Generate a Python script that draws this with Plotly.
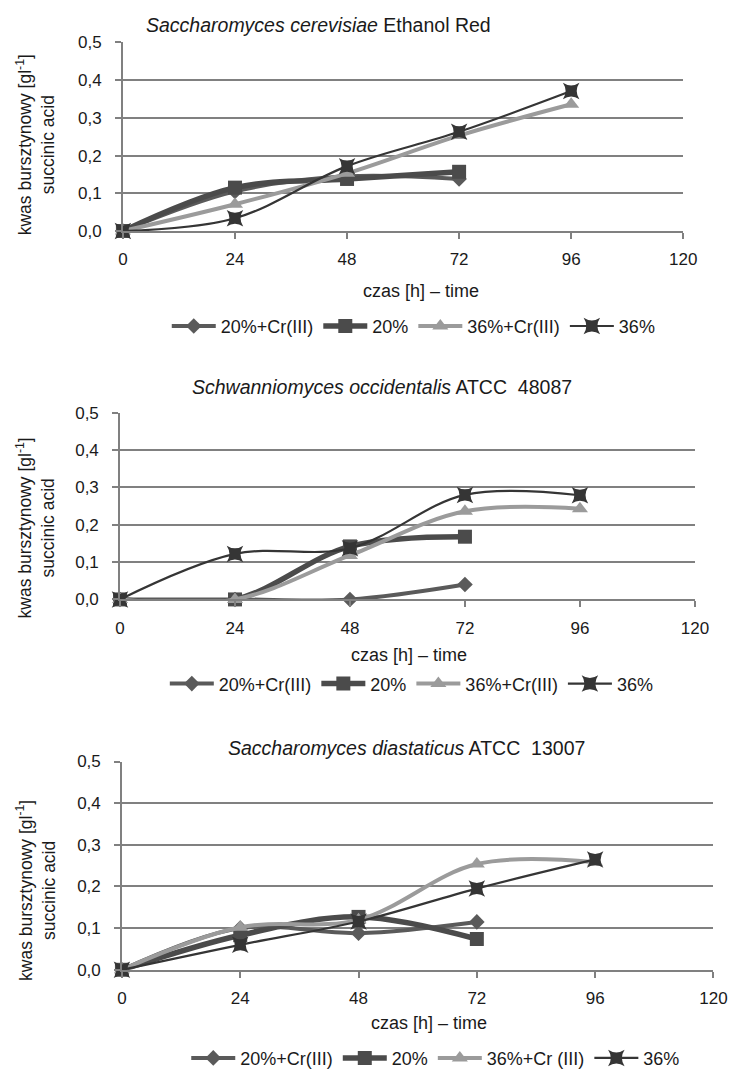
import plotly.graph_objects as go

# Sampling times [h]
time_short = [0, 24, 48, 72]
time_long = [0, 24, 48, 72, 96]
x_ticks = [0, 24, 48, 72, 96, 120]
y_ticks = [0.0, 0.1, 0.2, 0.3, 0.4, 0.5]
y_tick_labels = ["0,0", "0,1", "0,2", "0,3", "0,4", "0,5"]

series_names = ["20%+Cr(III)", "20%", "36%+Cr(III)", "36%"]
series_names_c = ["20%+Cr(III)", "20%", "36%+Cr (III)", "36%"]

titles = [
    "<i>Saccharomyces cerevisiae</i> Ethanol Red",
    "<i>Schwanniomyces occidentalis</i> ATCC  48087",
    "<i>Saccharomyces diastaticus</i> ATCC  13007",
]

# Succinic acid [g/l] — Ethanol Red
er_20cr = [0.0, 0.105, 0.145, 0.138]
er_20 = [0.0, 0.115, 0.138, 0.157]
er_36cr = [0.0, 0.071, 0.153, 0.253, 0.336]
er_36 = [0.0, 0.034, 0.172, 0.263, 0.371]

# Succinic acid [g/l] — Schwanniomyces occidentalis
so_20cr = [0.0, 0.0, 0.0, 0.040]
so_20 = [0.0, 0.0, 0.142, 0.168]
so_36cr = [0.0, 0.0, 0.118, 0.236, 0.243]
so_36 = [0.0, 0.122, 0.137, 0.280, 0.279]

# Succinic acid [g/l] — Saccharomyces diastaticus
sd_20cr = [0.0, 0.100, 0.088, 0.115]
sd_20 = [0.0, 0.083, 0.127, 0.074]
sd_36cr = [0.0, 0.102, 0.120, 0.254, 0.258]
sd_36 = [0.0, 0.060, 0.116, 0.195, 0.265]

W, H = 744, 1080

styles = [
    dict(color="#5a5a5a", width=4, symbol="diamond", size=12),
    dict(color="#4b4b4b", width=5.5, symbol="square", size=14),
    dict(color="#9b9b9b", width=4, symbol="triangle-up", size=14),
    dict(color="#353535", width=2.2, symbol="star-square", size=15),
]

panels = [
    dict(data=[er_20cr, er_20, er_36cr, er_36], names=series_names,
         x=(121, 696), y=(34, 226), title_y=16, title_x=322,
         xt_x=427, xt_y=287, yt_y=138, leg_y=323, leg_x=166),
    dict(data=[so_20cr, so_20, so_36cr, so_36], names=series_names,
         x=(118, 708), y=(411, 601), title_y=385, title_x=387,
         xt_x=415, xt_y=658, yt_y=528, leg_y=687, leg_x=164),
    dict(data=[sd_20cr, sd_20, sd_36cr, sd_36], names=series_names_c,
         x=(120, 727), y=(766, 978), title_y=752, title_x=412,
         xt_x=435, xt_y=1032, yt_y=897, leg_y=1068, leg_x=186),
]

font_fam = "Liberation Sans, Arial"
ink = "#1a1a1a"

fig = go.Figure()
layout = dict(
    width=W, height=H, margin=dict(l=0, r=0, t=0, b=0),
    paper_bgcolor="white", plot_bgcolor="white", showlegend=True,
    annotations=[],
)

for i, p in enumerate(panels):
    k = "" if i == 0 else str(i + 1)
    legend_id = "legend" + k
    for j, (vals, name) in enumerate(zip(p["data"], p["names"])):
        st = styles[j]
        xs = time_short if len(vals) == 4 else time_long
        fig.add_trace(go.Scatter(
            x=xs, y=vals, name=name, mode="lines+markers", cliponaxis=False,
            line=dict(color=st["color"], width=st["width"], shape="spline", smoothing=1.0),
            marker=dict(symbol=st["symbol"], size=st["size"], color=st["color"],
                        line=dict(width=0)),
            xaxis="x" + k, yaxis="y" + k, legend=legend_id,
        ))
    x0, x1 = p["x"]
    y0, y1 = p["y"]
    layout["xaxis" + k] = dict(
        domain=[x0 / W, x1 / W], range=[0, 120], anchor="y" + k,
        tickvals=x_ticks, ticktext=[str(v) for v in x_ticks],
        ticks="outside", ticklen=6, tickcolor="#808080", tickwidth=1.5,
        showline=True, linecolor="#808080", linewidth=1.5,
        showgrid=False, zeroline=False, ticklabelstandoff=6,
        tickfont=dict(family=font_fam, size=17, color=ink),
    )
    layout["yaxis" + k] = dict(
        domain=[1 - y1 / H, 1 - y0 / H], range=[0, 0.5], anchor="x" + k,
        tickvals=y_ticks, ticktext=y_tick_labels,
        ticks="outside", ticklen=6, tickcolor="#808080", tickwidth=1.5,
        showline=True, linecolor="#808080", linewidth=1.5,
        showgrid=True, gridcolor="#808080", gridwidth=1.5, zeroline=False,
        ticklabelstandoff=10,
        tickfont=dict(family=font_fam, size=17, color=ink),
    )
    layout[legend_id] = dict(
        orientation="h", x=p["leg_x"] / W, y=1 - p["leg_y"] / H,
        xanchor="left", yanchor="middle", xref="paper", yref="paper",
        font=dict(family=font_fam, size=18, color=ink),
        bgcolor="rgba(0,0,0,0)", itemwidth=44, tracegroupgap=0,
    )
    layout["annotations"] += [
        dict(text=titles[i], x=p["title_x"] / W, y=1 - p["title_y"] / H,
             xref="paper", yref="paper", showarrow=False,
             xanchor="center", yanchor="middle",
             font=dict(family=font_fam, size=19.5, color=ink)),
        dict(text="czas [h] – time", x=p["xt_x"] / W, y=1 - p["xt_y"] / H,
             xref="paper", yref="paper", showarrow=False,
             xanchor="center", yanchor="middle",
             font=dict(family=font_fam, size=18, color=ink)),
        dict(text="kwas bursztynowy [gl<sup>-1</sup>]<br>succinic acid",
             x=31.5 / W, y=1 - p["yt_y"] / H,
             xref="paper", yref="paper", showarrow=False, textangle=-90,
             xanchor="center", yanchor="middle",
             font=dict(family=font_fam, size=17.5, color=ink)),
    ]

fig.update_layout(**layout)
fig.write_html("out.html")
